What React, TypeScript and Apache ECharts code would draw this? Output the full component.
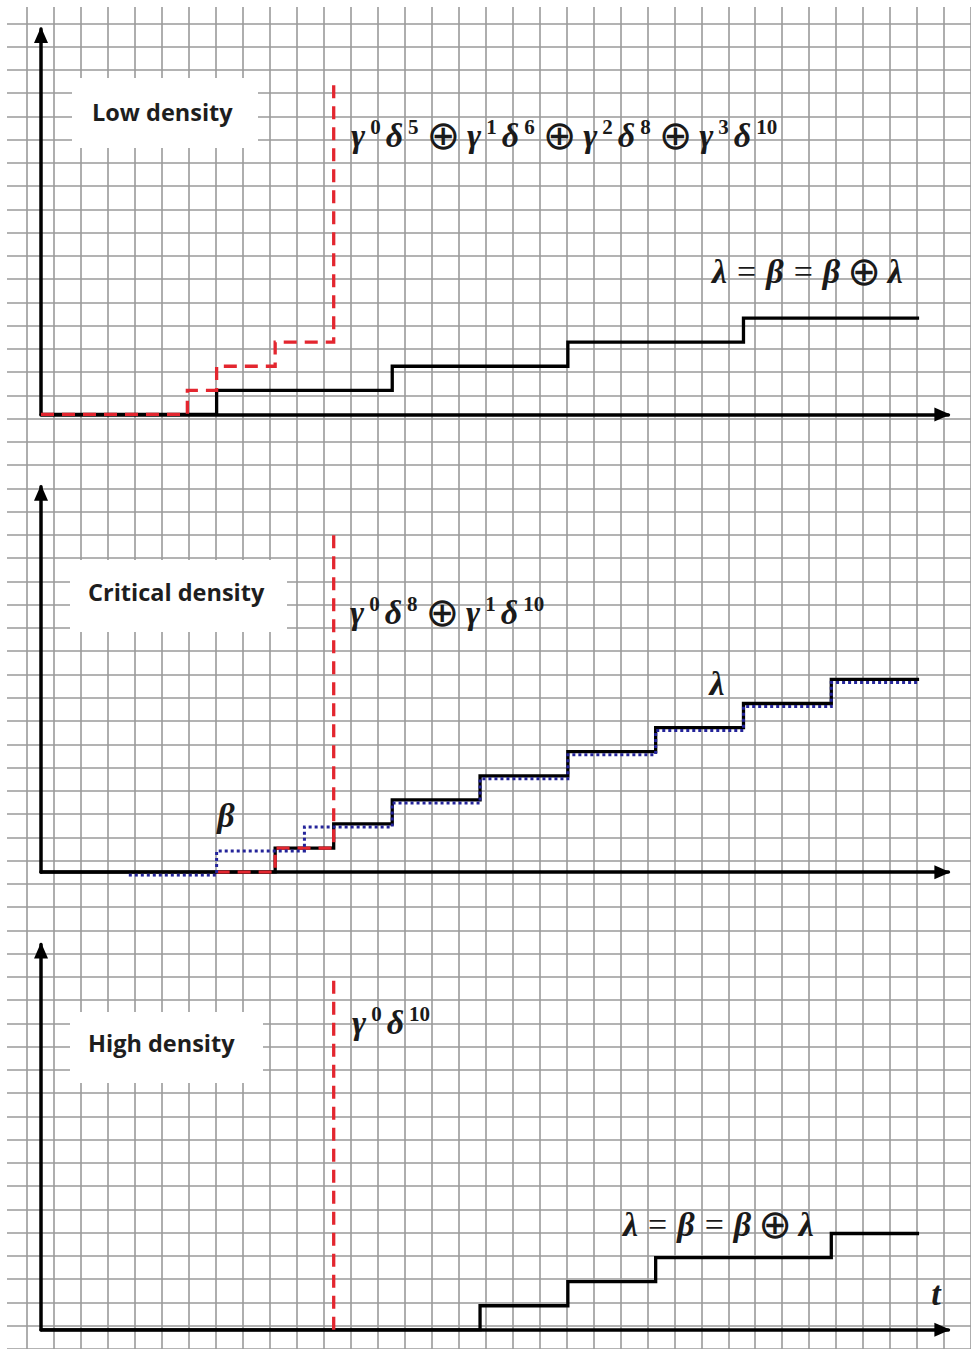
import React, { useEffect, useRef } from "react";
import * as echarts from "echarts";

// ---- data (step breakpoints: time t, level v) ----
const lowLambdaT = [0, 6, 12, 18, 24, 30];
const lowLambdaV = [0, 1, 2, 3, 4, 4];
const lowRedT = [0, 5, 6, 8, 10];
const lowRedV = [0, 1, 2, 3, 14];

const critLambdaT = [0, 8, 10, 12, 15, 18, 21, 24, 27, 30];
const critLambdaV = [0, 1, 2, 3, 4, 5, 6, 7, 8, 8];
const critBetaT = [3, 6, 9, 12, 15, 18, 21, 24, 27, 30];
const critBetaV = [0, 1, 2, 3, 4, 5, 6, 7, 8, 8];
const critRedT = [6, 8, 10];
const critRedV = [0, 1, 14];

const highLambdaT = [0, 15, 18, 21, 27, 30];
const highLambdaV = [0, 1, 2, 3, 4, 4];
const highRedT = [10, 10];
const highRedV = [0, 14.5];

const panelTitles = ["Low density", "Critical density", "High density"];

// ---- layout ----
const X0 = 41;
const DX = 29.27;
const Y0 = 29;
const DY = 24.09;
const AXIS_Y = [Y0 + 16 * DY, Y0 + 35 * DY, Y0 + 54 * DY];

function pairs(t: number[], v: number[]) {
  return t.map((x, i) => [x, v[i]]);
}

const BLACK = "#000000";
const RED = "#e3262f";
const BLUE = "#24249a";

const richMath: any = {
  g: {
    fontFamily: "Liberation Serif",
    fontStyle: "italic",
    fontWeight: "bold",
    fontSize: 34,
    lineHeight: 38,
    padding: [0, 2, 0, 2],
    fill: "#1a1a1a",
  },
  s: {
    fontFamily: "Liberation Serif",
    fontWeight: "bold",
    fontSize: 21,
    lineHeight: 18,
    verticalAlign: "top",
    padding: [0, 3, 0, 3],
    fill: "#1a1a1a",
  },
  o: {
    fontFamily: "DejaVu Sans",
    fontSize: 40,
    lineHeight: 38,
    padding: [0, 5, 0, 5],
    fill: "#1a1a1a",
  },
  e: {
    fontFamily: "Liberation Serif",
    fontSize: 34,
    lineHeight: 38,
    padding: [0, 8, 0, 8],
    fill: "#1a1a1a",
  },
};

function mathText(text: string, x: number, y: number, align: string = "left") {
  return {
    type: "text",
    x,
    y,
    z: 20,
    silent: true,
    style: {
      text,
      rich: richMath,
      align,
      verticalAlign: "middle",
      textAlign: align,
      textVerticalAlign: "middle",
    },
  };
}

function titleText(text: string, x: number, y: number) {
  return {
    type: "text",
    x,
    y,
    z: 20,
    silent: true,
    style: {
      text,
      fontFamily: "Open Sans",
      fontWeight: "bold",
      fontSize: 23.5,
      fill: "#1e1e1e",
      align: "left",
      verticalAlign: "middle",
      textAlign: "left",
      textVerticalAlign: "middle",
    },
  };
}

function whiteRect(x: number, y: number, w: number, h: number) {
  return {
    type: "rect",
    z: 5,
    silent: true,
    shape: { x, y, width: w, height: h },
    style: { fill: "#ffffff" },
  };
}

export default function App() {
  const ref = useRef<HTMLDivElement>(null);

  useEffect(() => {
    document.body.style.margin = "0";
    const chart = echarts.init(ref.current!, null, { renderer: "svg" });

    const hiddenAxis = {
      axisLine: { show: false },
      axisTick: { show: false },
      axisLabel: { show: false },
      splitLine: { show: false },
    };
    const arrowAxisLine = {
      show: true,
      symbol: ["none", "triangle"],
      symbolSize: [14, 16],
      symbolOffset: [0, -6],
      lineStyle: { color: BLACK, width: 3.5 },
    };

    const grids: any[] = [
      { left: X0 - 2 * DX, top: Y0 - 2 * DY, width: 36 * DX, height: 58 * DY },
      ...AXIS_Y.map((a) => ({ left: X0, top: a - 16 * DY, width: 31 * DX, height: 16 * DY })),
      { left: X0, top: AXIS_Y[1] - 16 * DY + 3, width: 31 * DX, height: 16 * DY },
    ];

    const paperLine = { show: true, lineStyle: { color: "#9a9a9a", width: 1.6 } };

    const xAxes: any[] = [
      {
        gridIndex: 0, type: "value", min: -2, max: 34, interval: 1, z: 0,
        axisLine: { show: false }, axisTick: { show: false }, axisLabel: { show: false },
        splitLine: paperLine,
      },
      ...[1, 2, 3].map((g) => ({
        gridIndex: g, type: "value", min: 0, max: 31, z: 3,
        axisLine: arrowAxisLine, axisTick: { show: false }, axisLabel: { show: false },
        splitLine: { show: false },
      })),
      { gridIndex: 4, type: "value", min: 0, max: 31, ...hiddenAxis },
    ];
    const yAxes: any[] = [
      {
        gridIndex: 0, type: "value", inverse: true, min: -2, max: 56, interval: 1, z: 0,
        axisLine: { show: false }, axisTick: { show: false }, axisLabel: { show: false },
        splitLine: paperLine,
      },
      ...[1, 2, 3].map((g) => ({
        gridIndex: g, type: "value", min: 0, max: 16, z: 3,
        axisLine: arrowAxisLine, axisTick: { show: false }, axisLabel: { show: false },
        splitLine: { show: false },
      })),
      { gridIndex: 4, type: "value", min: 0, max: 16, ...hiddenAxis },
    ];

    const stepSeries = (
      idx: number,
      t: number[],
      v: number[],
      color: string,
      type: any,
      width: number,
      z: number
    ) => ({
      type: "line",
      xAxisIndex: idx,
      yAxisIndex: idx,
      data: pairs(t, v),
      step: "end",
      symbol: "none",
      showSymbol: false,
      silent: true,
      z,
      lineStyle: { color, type, width, cap: "butt", join: "miter" },
    });

    const series: any[] = [
      stepSeries(1, lowLambdaT, lowLambdaV, BLACK, "solid", 3.3, 6),
      stepSeries(1, lowRedT, lowRedV, RED, [13, 8], 3.3, 7),
      stepSeries(2, critLambdaT, critLambdaV, BLACK, "solid", 3.3, 6),
      stepSeries(2, critRedT, critRedV, RED, [13, 8], 3.3, 7),
      stepSeries(4, critBetaT, critBetaV, BLUE, [3, 3], 3, 8),
      stepSeries(3, highLambdaT, highLambdaV, BLACK, "solid", 3.3, 6),
      stepSeries(3, highRedT, highRedV, RED, [13, 8], 3.3, 7),
    ];

    const graphics: any[] = [
      whiteRect(0, 0, 971, 7),
      whiteRect(0, 0, 7, 1349),
      whiteRect(72, 78, 186, 70),
      whiteRect(70, 560, 217, 72),
      whiteRect(70, 1012, 193, 71),
      titleText(panelTitles[0], 92, 112),
      titleText(panelTitles[1], 88, 592),
      titleText(panelTitles[2], 88, 1043),
      mathText(
        "{g|γ}{s|0}{g|δ}{s|5}{o|⊕}{g|γ}{s|1}{g|δ}{s|6}{o|⊕}{g|γ}{s|2}{g|δ}{s|8}{o|⊕}{g|γ}{s|3}{g|δ}{s|10}",
        349, 135
      ),
      mathText("{g|λ}{e|=}{g|β}{e|=}{g|β}{o|⊕}{g|λ}", 710, 271),
      mathText("{g|γ}{s|0}{g|δ}{s|8}{o|⊕}{g|γ}{s|1}{g|δ}{s|10}", 348, 612),
      mathText("{g|λ}", 717, 683, "center"),
      mathText("{g|β}", 226, 815, "center"),
      mathText("{g|γ}{s|0}{g|δ}{s|10}", 350, 1022),
      mathText("{g|λ}{e|=}{g|β}{e|=}{g|β}{o|⊕}{g|λ}", 621, 1224),
      mathText("{g|t}", 936, 1293, "center"),
    ];

    chart.setOption({
      animation: false,
      backgroundColor: "#ffffff",
      grid: grids,
      xAxis: xAxes,
      yAxis: yAxes,
      series,
      graphic: { elements: graphics },
    });

    return () => chart.dispose();
  }, []);

  return <div ref={ref} style={{ width: 971, height: 1349 }} />;
}
